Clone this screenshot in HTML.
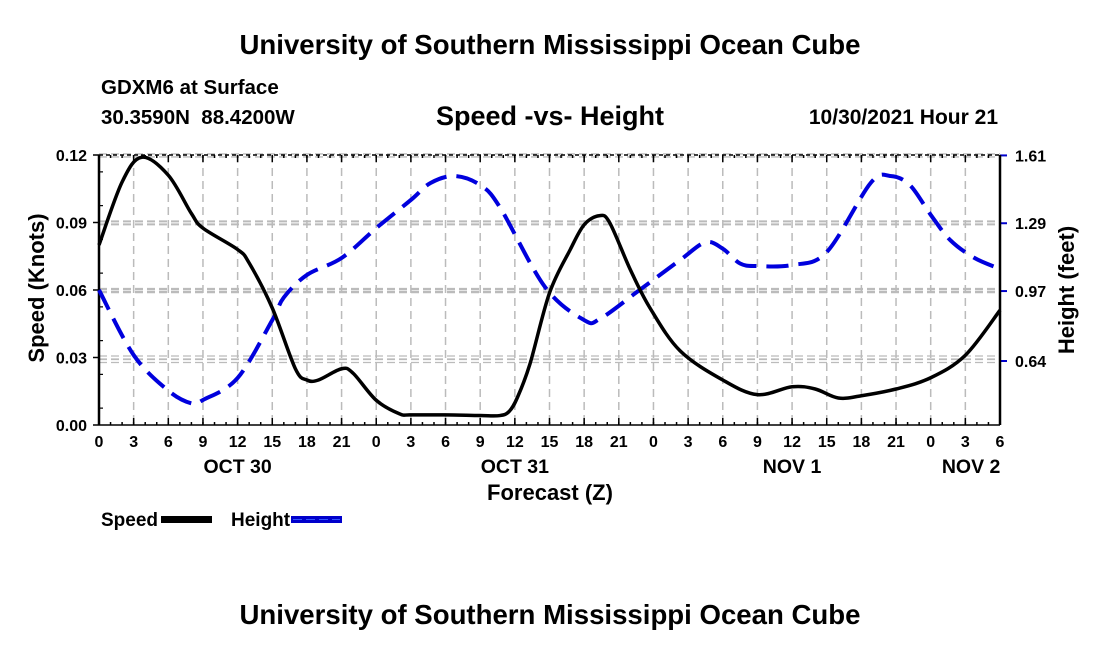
<!DOCTYPE html>
<html><head><meta charset="utf-8"><style>
body{margin:0;background:#fff;}
svg{display:block;font-family:"Liberation Sans",Arial,sans-serif;font-weight:bold;}
</style></head><body>
<svg id="chart" width="1100" height="650" viewBox="0 0 1100 650" xmlns="http://www.w3.org/2000/svg">
<rect width="1100" height="650" fill="#fff"/>
<text x="550" y="54" font-size="27.6" text-anchor="middle">University of Southern Mississippi Ocean Cube</text>
<text x="101" y="94" font-size="20.5">GDXM6 at Surface</text>
<text x="101" y="124" font-size="20.5" xml:space="preserve">30.3590N  88.4200W</text>
<text x="550" y="125" font-size="27" text-anchor="middle">Speed -vs- Height</text>
<text x="998" y="124" font-size="21" text-anchor="end">10/30/2021 Hour 21</text>
<g id="grid"></g>
<g id="axes"></g>
<g id="series"></g>
<text transform="translate(44,288) rotate(-90)" font-size="22" text-anchor="middle">Speed (Knots)</text>
<text transform="translate(1074,290) rotate(-90)" font-size="22" text-anchor="middle">Height (feet)</text>
<text x="550" y="500" font-size="22" text-anchor="middle">Forecast (Z)</text>
<g>
<text x="101" y="526" font-size="19">Speed</text>
<rect x="161" y="516" width="51" height="7" fill="#000"/>
<text x="231" y="526" font-size="19">Height</text>
<rect x="291" y="516" width="51" height="7" fill="#0000cc"/>
<line x1="293" y1="519.5" x2="340" y2="519.5" stroke="#3355ff" stroke-width="1" stroke-dasharray="9 4"/>
</g>
<text x="550" y="624" font-size="27.6" text-anchor="middle">University of Southern Mississippi Ocean Cube</text>
</svg>
<script>
const speedHours=[0,2,3.7,6,8,9,12,13,15,17,18,19,21,22,24,26,27,30,33,34.7,35.5,36.2,37.3,39,40.8,42,43.3,44.2,46,47.7,50.3,54,57,60,62,64,66,69,72,75,78];
const speedValues=[0.080,0.108,0.119,0.111,0.094,0.0875,0.078,0.072,0.052,0.025,0.020,0.020,0.025,0.023,0.011,0.005,0.0045,0.0045,0.0042,0.0042,0.006,0.012,0.027,0.0587,0.078,0.089,0.093,0.090,0.069,0.052,0.033,0.020,0.0135,0.017,0.016,0.012,0.013,0.016,0.021,0.031,0.051];
const heightHours=[0,3,6,8,9,12,15,16,18,21,24,27,28.7,30.8,33,34.7,38.6,42,43.4,46.8,50.3,52.5,54,55.5,57,60,63,66.8,68.5,70.2,72,73.7,75.8,78];
const heightValues=[0.975,0.668,0.50,0.44,0.456,0.56,0.833,0.94,1.046,1.126,1.267,1.40,1.48,1.513,1.47,1.366,0.99,0.833,0.84,0.975,1.116,1.2,1.17,1.1,1.088,1.093,1.154,1.48,1.513,1.47,1.33,1.21,1.126,1.075];
const speedTicks=[0,0.03,0.06,0.09,0.12];
const speedTickLabels=["0.00","0.03","0.06","0.09","0.12"];
const heightTicks=[0.64,0.97,1.29,1.61];
const heightTickLabels=["0.64","0.97","1.29","1.61"];
const xTickLabels=["0","3","6","9","12","15","18","21","0","3","6","9","12","15","18","21","0","3","6","9","12","15","18","21","0","3","6"];
const dayLabels=["OCT 30","OCT 31","NOV 1","NOV 2"];
const dayLabelHours=[12,36,60,75.5];

const L=99,R=1000,T=155,B=425;
const xS=h=>L+h/78*(R-L);
const yS=v=>B-v/0.12*(B-T);
const yH=v=>B-(v-0.338)/(1.612-0.338)*(B-T);
const NS="http://www.w3.org/2000/svg";
function mk(tag,attrs,parent,txt){const e=document.createElementNS(NS,tag);for(const k in attrs)e.setAttribute(k,attrs[k]);if(txt!==undefined)e.textContent=txt;parent.appendChild(e);return e;}
const grid=document.getElementById('grid'),axes=document.getElementById('axes'),series=document.getElementById('series');
xTickLabels.forEach((t,i)=>{const x=xS(i*3);
 if(i>0&&i<xTickLabels.length-1){const g=mk('line',{x1:x,y1:T,x2:x,y2:B,stroke:'#bbb','stroke-width':1.5,'stroke-dasharray':'8 5'},grid);
 
 }
 const tk=mk('line',{x1:x,y1:B,x2:x,y2:B-7,stroke:'#000','stroke-width':1.5},axes);
 
 
 mk('line',{x1:x,y1:T,x2:x,y2:T+7,stroke:'#000','stroke-width':1.5},axes);
 const lb=mk('text',{x:x,y:B+22,'font-size':16,'text-anchor':'middle'},axes,t);
 
 
});
for(let h=0;h<=78;h++){mk('line',{x1:xS(h),y1:B,x2:xS(h),y2:B-3,stroke:'#000','stroke-width':1.5},axes);mk('line',{x1:xS(h),y1:T,x2:xS(h),y2:T+3,stroke:'#000','stroke-width':1.5},axes);}
dayLabels.forEach((d,i)=>{const t=mk('text',{x:xS(dayLabelHours[i]),y:B+48,'font-size':19.5,'text-anchor':'middle'},axes,d);
 
 });
speedTicks.forEach((v,i)=>{const y=yS(v);
 if(i>0&&i<speedTicks.length-1){[-1.5,1.5].forEach(o=>mk('line',{x1:L,y1:y+o,x2:R,y2:y+o,stroke:'#bbb','stroke-width':1.3,'stroke-dasharray':'8 4'},grid));}
 const tk=mk('line',{x1:L-6,y1:y,x2:L,y2:y,stroke:'#000','stroke-width':1.5},axes);
 
 
 const lb=mk('text',{x:L-12,y:y+6,'font-size':16,'text-anchor':'end'},axes,speedTickLabels[i]);
 
 
});
for(let v=0.0075;v<0.12;v+=0.015){mk('line',{x1:L,y1:yS(v),x2:L+4,y2:yS(v),stroke:'#000','stroke-width':1.2},axes);}
heightTicks.forEach((v,i)=>{const y=yH(v);
 [-1.5,1.5].forEach(o=>mk('line',{x1:L,y1:y+o,x2:R,y2:y+o,stroke:'#bbb','stroke-width':1.3,'stroke-dasharray':'8 4'},grid));
 const tk=mk('line',{x1:R,y1:y,x2:R+7,y2:y,stroke:'#0000cc','stroke-width':2},axes);
 
 
 const lb=mk('text',{x:R+15,y:y+6,'font-size':16},axes,heightTickLabels[i]);
 
 
});
mk('line',{x1:L,y1:T,x2:R,y2:T,stroke:'#000','stroke-width':1.5,'stroke-dasharray':'4 3'},axes);
mk('line',{x1:L,y1:B,x2:R,y2:B,stroke:'#000','stroke-width':1.5},axes);
mk('line',{x1:L,y1:T,x2:L,y2:B,stroke:'#000','stroke-width':2.5},axes);
mk('line',{x1:R,y1:T,x2:R,y2:B,stroke:'#000','stroke-width':2.5},axes);
function smooth(pts){let d=`M${pts[0][0]},${pts[0][1]}`;for(let i=0;i<pts.length-1;i++){const p0=pts[i-1]||pts[i],p1=pts[i],p2=pts[i+1],p3=pts[i+2]||p2;
 d+=` C${p1[0]+(p2[0]-p0[0])/6},${p1[1]+(p2[1]-p0[1])/6} ${p2[0]-(p3[0]-p1[0])/6},${p2[1]-(p3[1]-p1[1])/6} ${p2[0]},${p2[1]}`;}return d;}
const hp=mk('path',{d:smooth(heightHours.map((h,i)=>[xS(h),yH(heightValues[i])])),fill:'none',stroke:'#0000dd','stroke-width':4,'stroke-dasharray':'22 10'},series);


const sp=mk('path',{d:smooth(speedHours.map((h,i)=>[xS(h),yS(speedValues[i])])),fill:'none',stroke:'#000','stroke-width':3.5},series);


</script>
</body></html>
